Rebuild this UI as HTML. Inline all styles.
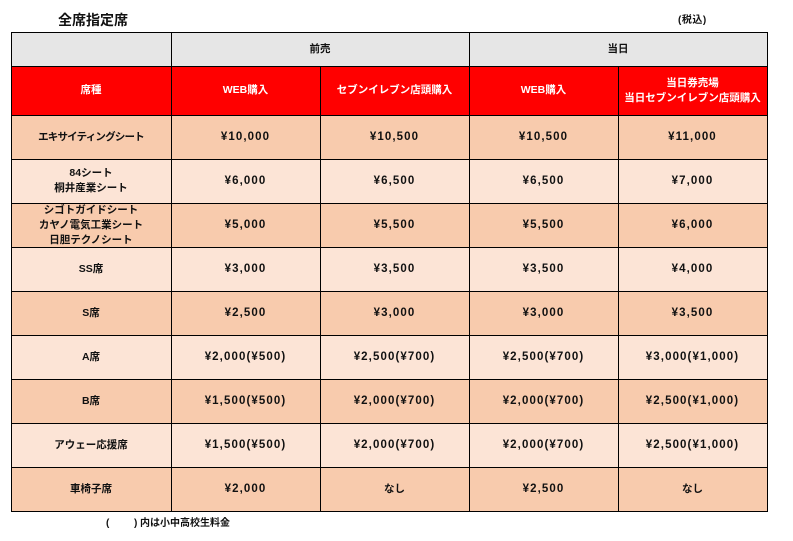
<!DOCTYPE html>
<html><head><meta charset="utf-8">
<style>
*{margin:0;padding:0;box-sizing:border-box}
body{width:793px;height:541px;background:#fff;position:relative;overflow:hidden;font-family:"Liberation Sans","Noto Sans CJK JP",sans-serif;color:#111}
.c{position:absolute;display:flex;align-items:center;justify-content:center;text-align:center;font-weight:bold;font-size:10.5px;line-height:14.7px}
.n{font-size:11.5px;letter-spacing:1.1px}
.h{position:absolute;height:1px;background:#000}
.v{position:absolute;width:1px;background:#000}
.g{background:#e6e6e6}
.r{background:#ff0000;color:#fff}
.d{background:#f8cbad}
.l{background:#fce4d6}
</style></head><body>
<div style="position:absolute;left:58px;top:11px;font-size:14px;font-weight:bold;line-height:18px;font-family:'Liberation Sans','Noto Sans CJK JP',sans-serif">全席指定席</div>
<div style="position:absolute;left:678px;top:14px;font-size:10px;font-weight:bold;line-height:14px;letter-spacing:0.5px">(税込)</div>

<!-- header row 1 -->
<div class="c g" style="left:11px;top:32px;width:160px;height:34px"></div>
<div class="c g" style="left:171px;top:32px;width:298px;height:34px">前売</div>
<div class="c g" style="left:469px;top:32px;width:298px;height:34px">当日</div>

<!-- header row 2 -->
<div class="c r" style="left:11px;top:66px;width:160px;height:49px">席種</div>
<div class="c r" style="left:171px;top:66px;width:149px;height:49px">WEB購入</div>
<div class="c r" style="left:320px;top:66px;width:149px;height:49px">セブンイレブン店頭購入</div>
<div class="c r" style="left:469px;top:66px;width:149px;height:49px">WEB購入</div>
<div class="c r" style="left:618px;top:66px;width:149px;height:49px">当日券売場<br>当日セブンイレブン店頭購入</div>

<!-- data rows -->
<div class="c d" style="left:11px;top:115px;width:160px;height:44px;letter-spacing:-0.8px">エキサイティングシート</div>
<div class="c d n" style="left:171px;top:115px;width:149px;height:44px">¥10,000</div>
<div class="c d n" style="left:320px;top:115px;width:149px;height:44px">¥10,500</div>
<div class="c d n" style="left:469px;top:115px;width:149px;height:44px">¥10,500</div>
<div class="c d n" style="left:618px;top:115px;width:149px;height:44px">¥11,000</div>

<div class="c l" style="left:11px;top:159px;width:160px;height:44px">84シート<br>桐井産業シート</div>
<div class="c l n" style="left:171px;top:159px;width:149px;height:44px">¥6,000</div>
<div class="c l n" style="left:320px;top:159px;width:149px;height:44px">¥6,500</div>
<div class="c l n" style="left:469px;top:159px;width:149px;height:44px">¥6,500</div>
<div class="c l n" style="left:618px;top:159px;width:149px;height:44px">¥7,000</div>

<div class="c d" style="left:11px;top:203px;width:160px;height:44px;padding-top:1px">シゴトガイドシート<br>カヤノ電気工業シート<br>日胆テクノシート</div>
<div class="c d n" style="left:171px;top:203px;width:149px;height:44px">¥5,000</div>
<div class="c d n" style="left:320px;top:203px;width:149px;height:44px">¥5,500</div>
<div class="c d n" style="left:469px;top:203px;width:149px;height:44px">¥5,500</div>
<div class="c d n" style="left:618px;top:203px;width:149px;height:44px">¥6,000</div>

<div class="c l" style="left:11px;top:247px;width:160px;height:44px">SS席</div>
<div class="c l n" style="left:171px;top:247px;width:149px;height:44px">¥3,000</div>
<div class="c l n" style="left:320px;top:247px;width:149px;height:44px">¥3,500</div>
<div class="c l n" style="left:469px;top:247px;width:149px;height:44px">¥3,500</div>
<div class="c l n" style="left:618px;top:247px;width:149px;height:44px">¥4,000</div>

<div class="c d" style="left:11px;top:291px;width:160px;height:44px">S席</div>
<div class="c d n" style="left:171px;top:291px;width:149px;height:44px">¥2,500</div>
<div class="c d n" style="left:320px;top:291px;width:149px;height:44px">¥3,000</div>
<div class="c d n" style="left:469px;top:291px;width:149px;height:44px">¥3,000</div>
<div class="c d n" style="left:618px;top:291px;width:149px;height:44px">¥3,500</div>

<div class="c l" style="left:11px;top:335px;width:160px;height:44px">A席</div>
<div class="c l n" style="left:171px;top:335px;width:149px;height:44px">¥2,000(¥500)</div>
<div class="c l n" style="left:320px;top:335px;width:149px;height:44px">¥2,500(¥700)</div>
<div class="c l n" style="left:469px;top:335px;width:149px;height:44px">¥2,500(¥700)</div>
<div class="c l n" style="left:618px;top:335px;width:149px;height:44px">¥3,000(¥1,000)</div>

<div class="c d" style="left:11px;top:379px;width:160px;height:44px">B席</div>
<div class="c d n" style="left:171px;top:379px;width:149px;height:44px">¥1,500(¥500)</div>
<div class="c d n" style="left:320px;top:379px;width:149px;height:44px">¥2,000(¥700)</div>
<div class="c d n" style="left:469px;top:379px;width:149px;height:44px">¥2,000(¥700)</div>
<div class="c d n" style="left:618px;top:379px;width:149px;height:44px">¥2,500(¥1,000)</div>

<div class="c l" style="left:11px;top:423px;width:160px;height:44px">アウェー応援席</div>
<div class="c l n" style="left:171px;top:423px;width:149px;height:44px">¥1,500(¥500)</div>
<div class="c l n" style="left:320px;top:423px;width:149px;height:44px">¥2,000(¥700)</div>
<div class="c l n" style="left:469px;top:423px;width:149px;height:44px">¥2,000(¥700)</div>
<div class="c l n" style="left:618px;top:423px;width:149px;height:44px">¥2,500(¥1,000)</div>

<div class="c d" style="left:11px;top:467px;width:160px;height:44px">車椅子席</div>
<div class="c d n" style="left:171px;top:467px;width:149px;height:44px">¥2,000</div>
<div class="c d" style="left:320px;top:467px;width:149px;height:44px">なし</div>
<div class="c d n" style="left:469px;top:467px;width:149px;height:44px">¥2,500</div>
<div class="c d" style="left:618px;top:467px;width:149px;height:44px">なし</div>

<!-- horizontal lines -->
<div class="h" style="left:11px;width:757px;top:32px"></div>
<div class="h" style="left:11px;width:757px;top:66px"></div>
<div class="h" style="left:11px;width:757px;top:115px"></div>
<div class="h" style="left:11px;width:757px;top:159px"></div>
<div class="h" style="left:11px;width:757px;top:203px"></div>
<div class="h" style="left:11px;width:757px;top:247px"></div>
<div class="h" style="left:11px;width:757px;top:291px"></div>
<div class="h" style="left:11px;width:757px;top:335px"></div>
<div class="h" style="left:11px;width:757px;top:379px"></div>
<div class="h" style="left:11px;width:757px;top:423px"></div>
<div class="h" style="left:11px;width:757px;top:467px"></div>
<div class="h" style="left:11px;width:757px;top:511px"></div>
<!-- vertical lines -->
<div class="v" style="left:11px;top:32px;height:480px"></div>
<div class="v" style="left:171px;top:32px;height:480px"></div>
<div class="v" style="left:320px;top:66px;height:446px"></div>
<div class="v" style="left:469px;top:32px;height:480px"></div>
<div class="v" style="left:618px;top:66px;height:446px"></div>
<div class="v" style="left:767px;top:32px;height:480px"></div>

<div style="position:absolute;left:106px;top:517px;font-size:10px;font-weight:bold;line-height:14px">(</div>
<div style="position:absolute;left:134px;top:517px;font-size:10px;font-weight:bold;line-height:14px">)</div>
<div style="position:absolute;left:140px;top:517px;font-size:10px;font-weight:bold;line-height:14px">内は小中高校生料金</div>
</body></html>
